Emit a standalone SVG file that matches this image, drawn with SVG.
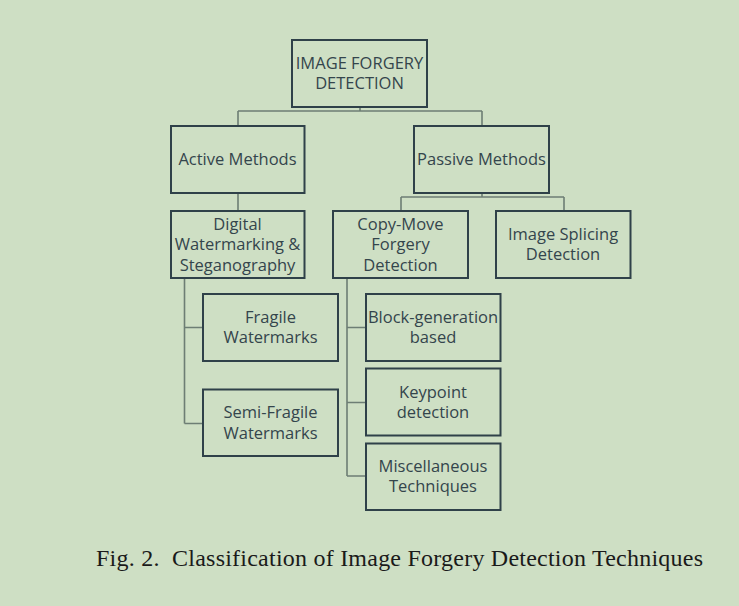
<svg xmlns="http://www.w3.org/2000/svg" width="739" height="606" viewBox="0 0 739 606">
<style>
.box{fill:none;stroke:#2f4149;stroke-width:2}
.lbl{font-family:"Open Sans","Liberation Sans",sans-serif;font-size:16.5px;fill:#34454c;text-anchor:middle}
.con{fill:none;stroke:#6d7e74;stroke-width:1.6}
.cap{font-family:"Liberation Serif",serif;font-size:24px;fill:#1a1a1a}
</style>
<rect x="0" y="0" width="739" height="606" fill="#cedfc4"/>
<g id="connectors">
<path class="con" d="M360 107V111M238 111H482M238 111V126M482 111V126"/>
<path class="con" d="M238 193V211"/>
<path class="con" d="M482 193V197M401 197H564M401 197V211M564 197V211"/>
<path class="con" d="M184.5 278V423.5M184.5 327.5H203M184.5 423.5H203"/>
<path class="con" d="M347 278V476M347 327.5H366M347 402.5H366M347 476H366"/>
</g>
<g id="root"><rect class="box" x="292" y="40" width="135" height="67"/><text class="lbl" x="359.5" y="68.5">IMAGE FORGERY</text><text class="lbl" x="359.5" y="88.5">DETECTION</text></g>
<g id="active"><rect class="box" x="171" y="126" width="133.5" height="67"/><text class="lbl" x="237.5" y="164.5">Active Methods</text></g>
<g id="passive"><rect class="box" x="414" y="126" width="135" height="67"/><text class="lbl" x="481.5" y="164.5">Passive Methods</text></g>
<g id="digital"><rect class="box" x="171" y="211" width="133.5" height="67"/><text class="lbl" x="237.5" y="229.5">Digital</text><text class="lbl" x="237.5" y="250">Watermarking &amp;</text><text class="lbl" x="237.5" y="270.5">Steganography</text></g>
<g id="copymove"><rect class="box" x="333" y="211" width="135" height="67"/><text class="lbl" x="400.5" y="229.5">Copy-Move</text><text class="lbl" x="400.5" y="250">Forgery</text><text class="lbl" x="400.5" y="270.5">Detection</text></g>
<g id="splicing"><rect class="box" x="496" y="211" width="134.5" height="67"/><text class="lbl" x="563" y="239.5">Image Splicing</text><text class="lbl" x="563" y="260">Detection</text></g>
<g id="fragile"><rect class="box" x="203" y="294" width="135" height="67"/><text class="lbl" x="270.5" y="322.5">Fragile</text><text class="lbl" x="270.5" y="343">Watermarks</text></g>
<g id="semifragile"><rect class="box" x="203" y="389.5" width="135" height="66.5"/><text class="lbl" x="270.5" y="418">Semi-Fragile</text><text class="lbl" x="270.5" y="438.5">Watermarks</text></g>
<g id="block"><rect class="box" x="366" y="294" width="134.5" height="67"/><text class="lbl" x="433" y="322.5">Block-generation</text><text class="lbl" x="433" y="343">based</text></g>
<g id="keypoint"><rect class="box" x="366" y="368.5" width="134.5" height="67"/><text class="lbl" x="433" y="397.5">Keypoint</text><text class="lbl" x="433" y="417.5">detection</text></g>
<g id="misc"><rect class="box" x="366" y="443.5" width="134.5" height="66.5"/><text class="lbl" x="433" y="472">Miscellaneous</text><text class="lbl" x="433" y="492">Techniques</text></g>
<text class="cap" x="96" y="566" textLength="607" lengthAdjust="spacing" xml:space="preserve">Fig. 2.  Classification of Image Forgery Detection Techniques</text>
</svg>
